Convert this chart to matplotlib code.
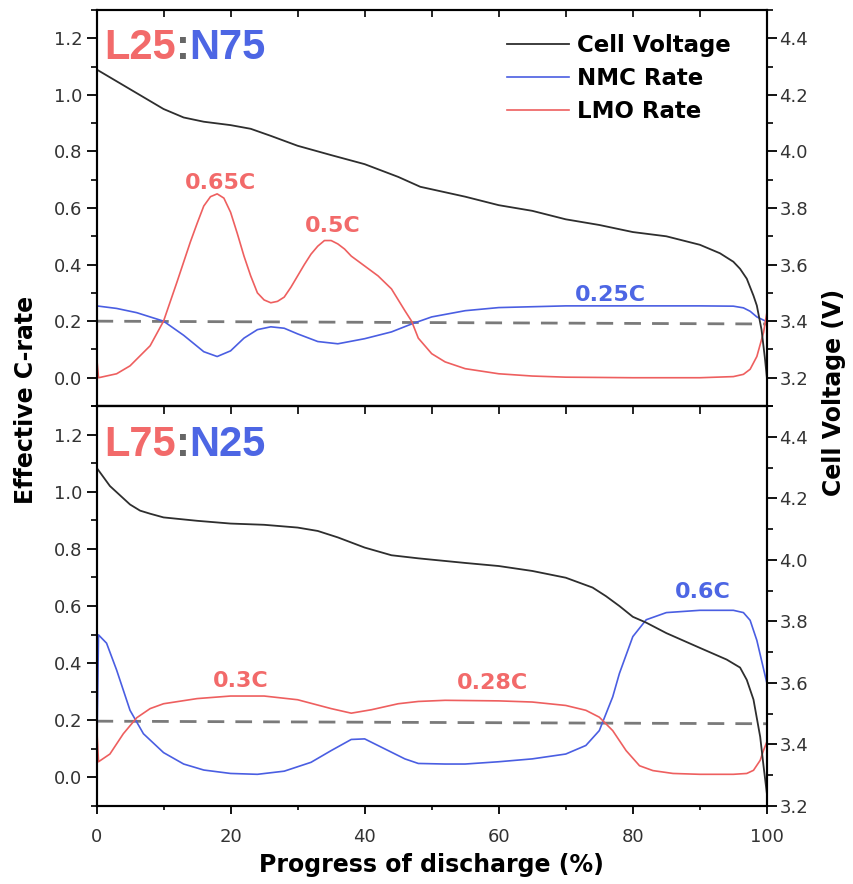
import numpy as np
import matplotlib.pyplot as plt
from matplotlib.ticker import MultipleLocator

# ---- top panel: L25:N75 ----
x_v_top = [0, 5, 10, 13, 16, 20, 23, 26, 30, 35, 40, 45, 48.3, 55, 60, 65, 70, 75, 80,
           85, 90, 93, 95, 96, 97, 98, 98.5, 99.2, 99.7, 100]
v_top = [4.29, 4.22, 4.15, 4.12, 4.105, 4.093, 4.08, 4.055, 4.02, 3.987, 3.955, 3.91,
         3.875, 3.84, 3.81, 3.79, 3.76, 3.74, 3.715, 3.70, 3.67, 3.64, 3.61, 3.585,
         3.55, 3.49, 3.455, 3.37, 3.27, 3.2]

x_nmc_top = [0, 3, 6, 10, 13, 16, 18, 20, 22, 24, 26, 28, 30, 33, 36, 40, 44, 47,
             50, 55, 60, 70, 80, 90, 95, 96.5, 97.5, 98.5, 100]
nmc_top = [0.254, 0.245, 0.23, 0.20, 0.15, 0.092, 0.075, 0.095, 0.14, 0.17, 0.18,
           0.175, 0.155, 0.128, 0.12, 0.138, 0.162, 0.19, 0.215, 0.237, 0.248, 0.254,
           0.254, 0.254, 0.253, 0.247, 0.235, 0.215, 0.198]

x_lmo_top = [0, 0.3, 3, 5, 8, 10, 12, 14, 15, 16, 17, 18, 19, 20, 21, 22, 23, 24, 25,
             26, 27, 28, 29, 30, 31, 32, 33, 34, 35, 36, 37, 38, 40, 42, 44, 46, 47,
             48, 50, 52, 55, 60, 65, 70, 80, 90, 95, 96.5, 97.5, 98.5, 99.5, 100]
lmo_top = [0.08, 0.0, 0.014, 0.042, 0.113, 0.20, 0.338, 0.48, 0.545, 0.607, 0.64,
           0.65, 0.635, 0.585, 0.51, 0.43, 0.36, 0.30, 0.275, 0.265, 0.27, 0.285, 0.32,
           0.36, 0.40, 0.437, 0.465, 0.485, 0.485, 0.473, 0.455, 0.43, 0.395, 0.36,
           0.314, 0.237, 0.20, 0.14, 0.085, 0.056, 0.032, 0.014, 0.006, 0.002, 0.0,
           0.0, 0.004, 0.012, 0.03, 0.075, 0.16, 0.23]

# ---- bottom panel: L75:N25 ----
x_v_bot = [0, 1, 2, 3.5, 5, 6.5, 8, 10, 15, 20, 25, 30, 33, 36, 40, 44, 48, 55, 60,
           65, 70, 74, 76, 78, 80, 82, 85, 90, 94, 96, 97, 98, 99, 99.5, 100]
v_bot = [4.30, 4.27, 4.24, 4.21, 4.18, 4.16, 4.15, 4.138, 4.127, 4.118, 4.114, 4.105,
         4.094, 4.073, 4.04, 4.015, 4.005, 3.99, 3.98, 3.964, 3.942, 3.91, 3.882, 3.85,
         3.815, 3.796, 3.762, 3.714, 3.676, 3.650, 3.61, 3.546, 3.425, 3.33, 3.24]

x_lmo_bot = [0, 0.3, 2, 4, 6, 8, 10, 15, 20, 25, 30, 35, 38, 41, 45, 48, 52, 60, 65,
             70, 73, 75, 77, 79, 81, 83, 86, 90, 95, 97, 98, 99, 99.5, 100]
lmo_bot = [0.19, 0.055, 0.082, 0.153, 0.209, 0.241, 0.258, 0.276, 0.285, 0.285,
           0.272, 0.241, 0.225, 0.237, 0.258, 0.266, 0.27, 0.268, 0.264, 0.252, 0.235,
           0.211, 0.164, 0.094, 0.041, 0.024, 0.014, 0.011, 0.011, 0.014, 0.025, 0.06,
           0.095, 0.125]

x_nmc_bot = [0, 0.3, 1.5, 3, 5, 7, 10, 13, 16, 20, 24, 28, 32, 35, 38, 40, 43, 46, 48,
             52, 55, 60, 65, 70, 73, 75, 77, 78, 80, 82, 85, 90, 95, 96.5, 97.5, 98.5,
             99.5, 100]
nmc_bot = [0.0, 0.499, 0.47, 0.376, 0.235, 0.153, 0.087, 0.047, 0.026, 0.014, 0.011,
           0.022, 0.053, 0.094, 0.133, 0.135, 0.10, 0.065, 0.049, 0.047, 0.047, 0.055,
           0.065, 0.082, 0.112, 0.164, 0.282, 0.364, 0.493, 0.552, 0.577, 0.585, 0.585,
           0.577, 0.55, 0.48, 0.38, 0.33]

x_ref = [0, 100]
ref_top = [0.2, 0.19]
ref_bot = [0.197, 0.188]

RED = "#ee5f5f"
BLUE = "#4a5ee2"
BLACK = "#2e2e2e"
RED_T = "#f26a6a"
BLUE_T = "#4d66e4"

fig = plt.figure(figsize=(8.54, 8.84), dpi=100)
ax1 = fig.add_axes([0.113, 0.5407, 0.785, 0.448])
ax2 = fig.add_axes([0.113, 0.0882, 0.785, 0.4525])


def style_left(ax):
    ax.set_xlim(0, 100)
    ax.set_ylim(-0.1, 1.3)
    ax.yaxis.set_major_locator(MultipleLocator(0.2))
    ax.yaxis.set_minor_locator(MultipleLocator(0.1))
    ax.xaxis.set_major_locator(MultipleLocator(20))
    ax.xaxis.set_minor_locator(MultipleLocator(10))
    ax.tick_params(axis="y", which="major", direction="out", length=7, width=1.3,
                   labelsize=13, labelcolor="#333333", pad=3)
    ax.tick_params(axis="y", which="minor", direction="out", length=4, width=1.2)
    ax.yaxis.set_major_formatter(plt.FuncFormatter(lambda v, p: "%.1f" % v))
    for s in ax.spines.values():
        s.set_linewidth(1.5)


def style_right(ax, lo):
    ax.set_ylim(lo, 4.5)
    ax.yaxis.set_major_locator(MultipleLocator(0.2))
    ax.yaxis.set_minor_locator(MultipleLocator(0.1))
    ax.tick_params(axis="y", which="major", direction="out", length=7, width=1.3,
                   labelsize=13, labelcolor="#333333", pad=2)
    ax.tick_params(axis="y", which="minor", direction="out", length=4, width=1.2)
    ax.yaxis.set_major_formatter(plt.FuncFormatter(lambda v, p: "%.1f" % v))
    for s in ax.spines.values():
        s.set_linewidth(1.5)


style_left(ax1)
style_left(ax2)

# top panel x ticks: only on top edge pointing in
ax1.tick_params(axis="x", which="both", bottom=False, top=True, labelbottom=False,
                direction="in", length=5, width=1.2)
# bottom panel x ticks
ax2.tick_params(axis="x", which="major", direction="out", length=6, width=1.3,
                labelsize=13, labelcolor="#333333", pad=10)
ax2.tick_params(axis="x", which="minor", direction="out", length=3, width=1.2)
sec = ax2.secondary_xaxis("top")
sec.xaxis.set_major_locator(MultipleLocator(10))
sec.tick_params(axis="x", which="both", direction="in", length=6, width=1.2,
                labeltop=False)
sec.spines["top"].set_linewidth(1.5)

# lines
for ax, xn, yn, xl, yl, yr in [(ax1, x_nmc_top, nmc_top, x_lmo_top, lmo_top, ref_top),
                               (ax2, x_nmc_bot, nmc_bot, x_lmo_bot, lmo_bot, ref_bot)]:
    ax.plot(x_ref, yr, color="#7a7a7a", lw=2.0, dashes=(6, 4))
    ax.plot(xn, yn, color=BLUE, lw=1.2, label="NMC Rate")
    ax.plot(xl, yl, color=RED, lw=1.2, label="LMO Rate")

ax1r = ax1.twinx()
style_right(ax1r, 3.1)
ax1r.plot(x_v_top, v_top, color=BLACK, lw=1.3, label="Cell Voltage")
ax2r = ax2.twinx()
style_right(ax2r, 3.2)
ax2r.plot(x_v_bot, v_bot, color=BLACK, lw=1.3)

# legend
h1, l1 = ax1r.get_legend_handles_labels()
h2, l2 = ax1.get_legend_handles_labels()
leg = ax1r.legend(h1 + h2, l1 + l2, loc="upper left", bbox_to_anchor=(0.580, 0.975),
                  bbox_transform=fig.transFigure, frameon=False, handlelength=2.7,
                  handletextpad=0.38, labelspacing=0.45, borderpad=0.0,
                  prop={"weight": "bold", "size": 16.5})

# panel titles
for ax, a, b in [(ax1, "L25", "N75"), (ax2, "L75", "N25")]:
    t = ax.text(0.011, 0.876, a, transform=ax.transAxes, color=RED_T,
                fontsize=30, fontweight="bold", family="Liberation Sans")
    t2 = ax.annotate(":", xycoords=t, xy=(1, 0), va="bottom", color="#666666",
                     fontsize=30, fontweight="bold", family="Liberation Sans")
    ax.annotate(b, xycoords=t2, xy=(1, 0), va="bottom", color=BLUE_T,
                fontsize=30, fontweight="bold", family="Liberation Sans")

# rate annotations
ann_kw = dict(ha="center", va="baseline", fontsize=16, fontweight="bold")
ax1.text(18.5, 0.667, "0.65C", color=RED_T, **ann_kw)
ax1.text(35.3, 0.515, "0.5C", color=RED_T, **ann_kw)
ax1.text(76.6, 0.272, "0.25C", color=BLUE_T, **ann_kw)
ax2.text(21.5, 0.317, "0.3C", color=RED_T, **ann_kw)
ax2.text(59.0, 0.311, "0.28C", color=RED_T, **ann_kw)
ax2.text(90.4, 0.628, "0.6C", color=BLUE_T, **ann_kw)

# axis labels
fig.text(0.03, 0.5475, "Effective C-rate", rotation=90, ha="center", va="center",
         fontsize=17, fontweight="bold")
fig.text(0.976, 0.5566, "Cell Voltage (V)", rotation=90, ha="center", va="center",
         fontsize=17, fontweight="bold")
ax2.set_xlabel("Progress of discharge (%)", fontsize=17, fontweight="bold", labelpad=5)

fig.savefig("out.png", dpi=100)
